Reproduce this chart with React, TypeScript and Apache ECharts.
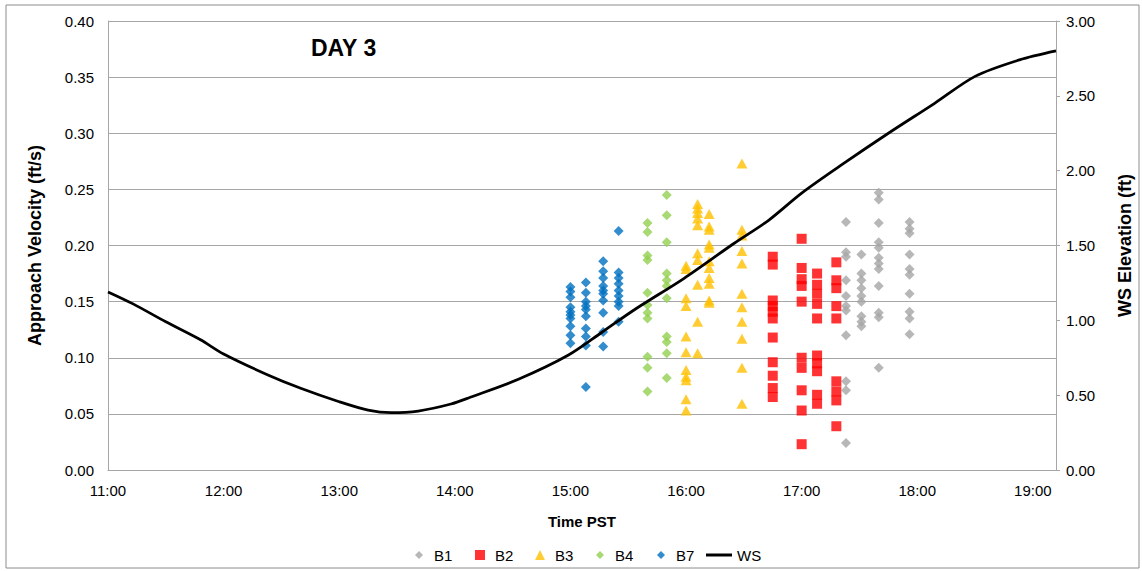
import React, { useEffect, useRef } from "react";
import * as echarts from "echarts";

// ---- Data ----
const xTickHours = [11, 12, 13, 14, 15, 16, 17, 18, 19];

const b7Times = ["15:00", "15:08", "15:17", "15:25"];
const b7Values = [
  [0.163, 0.159, 0.154, 0.145, 0.141, 0.138, 0.135, 0.128, 0.120, 0.113],
  [0.167, 0.158, 0.150, 0.146, 0.143, 0.137, 0.126, 0.119, 0.111, 0.074],
  [0.186, 0.177, 0.171, 0.164, 0.160, 0.157, 0.151, 0.140, 0.123, 0.110],
  [0.213, 0.176, 0.171, 0.166, 0.160, 0.155, 0.150, 0.146, 0.132],
];

const b4Times = ["15:40", "15:50"];
const b4Values = [
  [0.220, 0.212, 0.191, 0.187, 0.158, 0.147, 0.140, 0.135, 0.101, 0.091, 0.070],
  [0.245, 0.227, 0.203, 0.175, 0.169, 0.164, 0.153, 0.119, 0.114, 0.104, 0.082],
];

const b3Times = ["16:00", "16:06", "16:12", "16:29"];
const b3Values = [
  [0.182, 0.179, 0.153, 0.146, 0.119, 0.105, 0.089, 0.083, 0.080, 0.063, 0.053],
  [0.237, 0.233, 0.229, 0.224, 0.218, 0.193, 0.187, 0.165, 0.132, 0.104],
  [0.228, 0.217, 0.214, 0.201, 0.198, 0.186, 0.180, 0.171, 0.166, 0.151, 0.149],
  [0.273, 0.214, 0.209, 0.195, 0.184, 0.157, 0.145, 0.132, 0.117, 0.091, 0.059],
];

const b2Times = ["16:45", "17:00", "17:08", "17:18"];
const b2Values = [
  [0.190, 0.183, 0.151, 0.146, 0.141, 0.135, 0.118, 0.096, 0.084, 0.073, 0.065],
  [0.206, 0.180, 0.170, 0.164, 0.150, 0.100, 0.091, 0.071, 0.053, 0.023],
  [0.175, 0.165, 0.157, 0.148, 0.135, 0.102, 0.095, 0.088, 0.067, 0.059],
  [0.185, 0.169, 0.162, 0.146, 0.135, 0.079, 0.070, 0.062, 0.039],
];

const b1Times = ["17:23", "17:31", "17:40", "17:56"];
const b1Values = [
  [0.221, 0.194, 0.190, 0.169, 0.155, 0.146, 0.142, 0.120, 0.079, 0.071, 0.024],
  [0.192, 0.175, 0.169, 0.162, 0.155, 0.150, 0.137, 0.132, 0.128],
  [0.247, 0.241, 0.220, 0.203, 0.198, 0.189, 0.184, 0.179, 0.164, 0.140, 0.136, 0.091],
  [0.221, 0.215, 0.211, 0.192, 0.179, 0.174, 0.157, 0.141, 0.135, 0.121],
];

const wsTimes = [
  "11:00", "11:13", "11:30", "11:48", "12:00", "12:23", "12:40", "13:00", "13:15",
  "13:27", "13:41", "13:58", "14:08", "14:33", "14:59", "15:16", "15:33", "15:59",
  "16:25", "16:43", "17:00", "17:22", "17:45", "18:09", "18:30", "18:53", "19:12",
];
const wsValues = [
  1.19, 1.11, 0.99, 0.87, 0.775, 0.635, 0.546, 0.456, 0.40,
  0.383, 0.394, 0.441, 0.486, 0.606, 0.768, 0.917, 1.069, 1.281,
  1.515, 1.67, 1.85, 2.05, 2.25, 2.45, 2.63, 2.74, 2.80,
];

const FONT = 'Arial, "Liberation Sans", sans-serif';

const toHours = (t: string) => {
  const [h, m] = t.split(":").map(Number);
  return h + m / 60;
};

const buildScatter = (times: string[], values: number[][]) => {
  const out: number[][] = [];
  times.forEach((t, i) => {
    values[i].forEach((v) => out.push([toHours(t), v]));
  });
  return out;
};

export default function App() {
  const ref = useRef<HTMLDivElement>(null);

  useEffect(() => {
    if (!ref.current) return;
    const chart = echarts.init(ref.current, undefined, { renderer: "svg" });

    const legendText = (pad: number) => ({
      fontFamily: FONT,
      fontSize: 15,
      color: "#000",
      padding: [0, 0, 0, pad],
    });
    const labelStyle = { fontFamily: FONT, fontSize: 15, color: "#000" };
    const nameStyleY = { fontFamily: FONT, fontSize: 18, fontWeight: "bold", color: "#000" };
    const lg = (name: string, left: number, size: number, pad: number, width?: number, icon?: string) => ({
      data: [icon ? { name, icon } : name],
      left,
      top: 547.5,
      padding: 0,
      itemWidth: width ?? size,
      itemHeight: size,
      textStyle: legendText(pad),
    });

    const option: any = {
      animation: false,
      backgroundColor: "#fff",
      textStyle: { fontFamily: FONT },
      grid: { left: 108, right: 86, top: 21, bottom: 101, containLabel: false },
      graphic: [
        {
          type: "rect",
          shape: { x: 6, y: 5, width: 1133, height: 563 },
          style: { fill: "none", stroke: "#8c8c8c", lineWidth: 1 },
          silent: true,
        },
        {
          type: "text",
          x: 311,
          y: 48,
          style: {
            text: "DAY 3",
            fontFamily: FONT,
            fontSize: 23,
            fontWeight: "bold",
            fill: "#000",
            verticalAlign: "middle",
          },
        },
      ],
      legend: [
        lg("B1", 415, 8, 6),
        lg("B2", 475, 10, 5),
        lg("B3", 535, 10, 5),
        lg("B4", 596, 8, 6),
        lg("B7", 657, 8, 6),
        lg("WS", 706, 3, 0, 26, "rect"),
      ],
      xAxis: {
        type: "value",
        min: 11,
        max: 19.2,
        interval: 1,
        name: "Time PST",
        nameLocation: "middle",
        nameGap: 44,
        nameTextStyle: { fontFamily: FONT, fontSize: 15, fontWeight: "bold", color: "#000" },
        axisLine: { show: true, onZero: false, lineStyle: { color: "#a6a6a6", width: 1 } },
        axisTick: { show: false },
        splitLine: { show: false },
        axisLabel: {
          ...labelStyle,
          margin: 13,
          showMaxLabel: false,
          formatter: (v: number) =>
            xTickHours.includes(Math.round(v * 1000) / 1000) ? `${Math.round(v)}:00` : "",
        },
      },
      yAxis: [
        {
          type: "value",
          min: 0,
          max: 0.4,
          interval: 0.05,
          name: "Approach Velocity (ft/s)",
          nameLocation: "middle",
          nameRotate: 90,
          nameGap: 64,
          nameTextStyle: nameStyleY,
          axisLine: { show: true, lineStyle: { color: "#a6a6a6", width: 1 } },
          axisTick: { show: false },
          splitLine: { show: true, lineStyle: { color: "#a6a6a6", width: 1 } },
          axisLabel: {
            ...labelStyle,
            margin: 14,
            formatter: (v: number) => v.toFixed(2),
          },
        },
        {
          type: "value",
          min: 0,
          max: 3,
          interval: 0.5,
          position: "right",
          name: "WS Elevation (ft)",
          nameLocation: "middle",
          nameRotate: 90,
          nameGap: 60,
          nameTextStyle: nameStyleY,
          axisLine: { show: true, lineStyle: { color: "#a6a6a6", width: 1 } },
          axisTick: { show: true, length: 4, inside: false, lineStyle: { color: "#a6a6a6" } },
          splitLine: { show: false },
          axisLabel: {
            ...labelStyle,
            margin: 10,
            formatter: (v: number) => v.toFixed(2),
          },
        },
      ],
      series: [
        {
          name: "B1",
          type: "scatter",
          symbol: "diamond",
          symbolSize: 10,
          itemStyle: { color: "#a5a5a5" },
          data: buildScatter(b1Times, b1Values),
        },
        {
          name: "B2",
          type: "scatter",
          symbol: "rect",
          symbolSize: 10,
          itemStyle: { color: "#ff0000" },
          data: buildScatter(b2Times, b2Values),
        },
        {
          name: "B3",
          type: "scatter",
          symbol: "triangle",
          symbolSize: [11, 10],
          itemStyle: { color: "#ffc000" },
          data: buildScatter(b3Times, b3Values),
        },
        {
          name: "B4",
          type: "scatter",
          symbol: "diamond",
          symbolSize: 10,
          itemStyle: { color: "#92d050" },
          data: buildScatter(b4Times, b4Values),
        },
        {
          name: "B7",
          type: "scatter",
          symbol: "diamond",
          symbolSize: 10,
          itemStyle: { color: "#0070c0" },
          data: buildScatter(b7Times, b7Values),
        },
        {
          name: "WS",
          type: "line",
          yAxisIndex: 1,
          smooth: 0.3,
          symbol: "none",
          showSymbol: false,
          lineStyle: { color: "#000", width: 2.75 },
          itemStyle: { color: "#000" },
          z: 5,
          data: wsTimes.map((t, i) => [toHours(t), wsValues[i]]),
        },
      ],
    };

    chart.setOption(option);
    return () => chart.dispose();
  }, []);

  return (
    <div
      ref={ref}
      style={{ position: "fixed", left: 0, top: 0, width: 1142, height: 571, background: "#fff" }}
    />
  );
}
